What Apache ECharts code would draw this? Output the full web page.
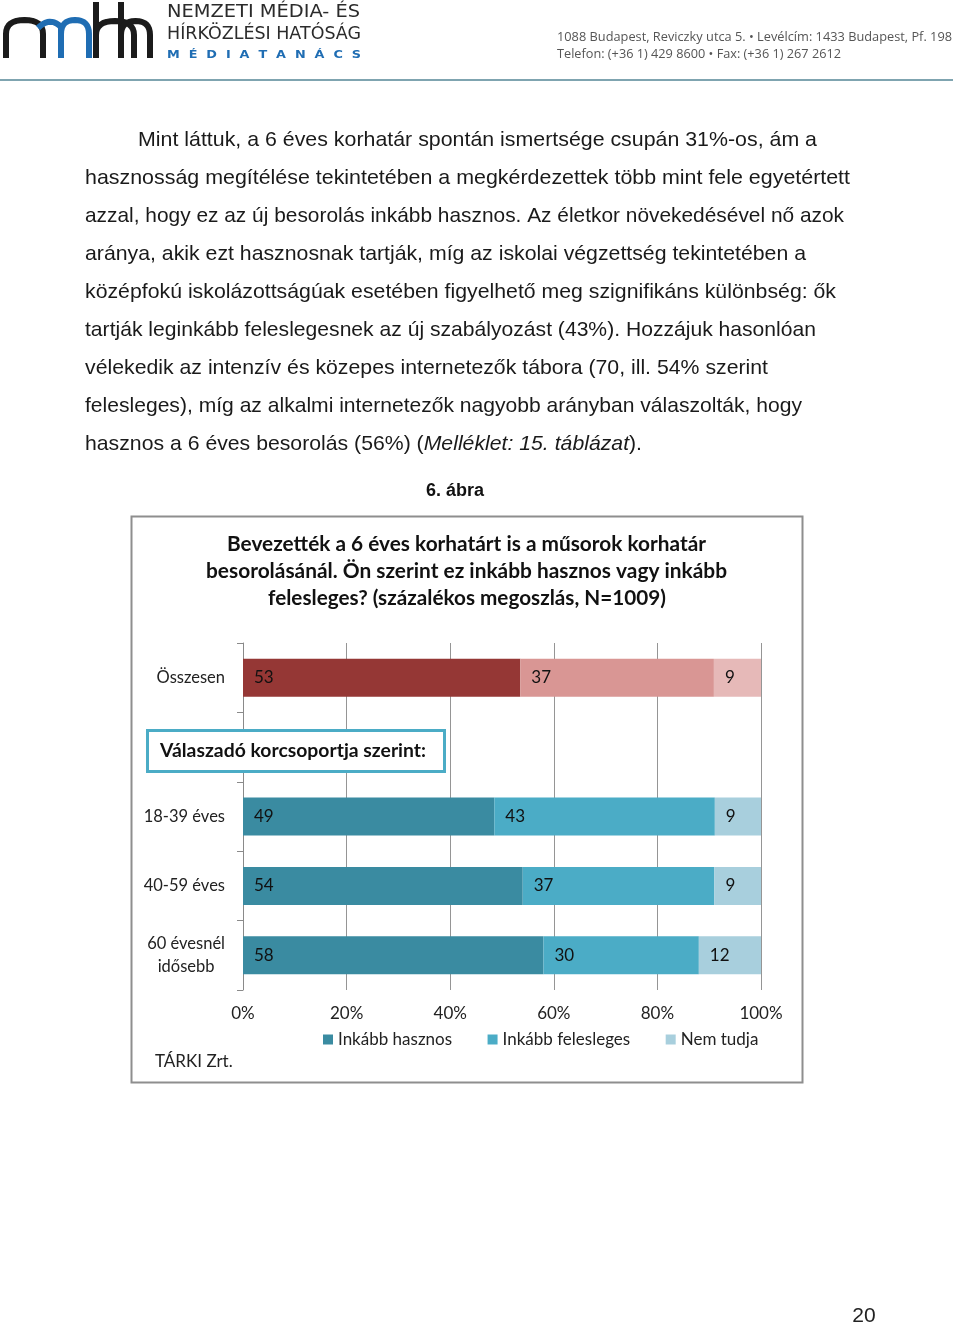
<!DOCTYPE html>
<html>
<head>
<meta charset="utf-8">
<script src="https://cdn.jsdelivr.net/npm/echarts@6/dist/echarts.min.js"></script>
<style>
html,body{margin:0;padding:0;background:#fff;}
#chart{width:960px;height:1328px;}
</style>
</head>
<body>
<div id="chart"></div>
<script>
// ---- data ----
const categories = ['Összesen', '', '18-39 éves', '40-59 éves', '60 évesnél\nidősebb'];
const seriesNames = ['Inkább hasznos', 'Inkább felesleges', 'Nem tudja'];
const inkabbHasznos = [53, null, 49, 54, 58];
const inkabbFelesleges = [37, null, 43, 37, 30];
const nemTudja = [9, null, 9, 9, 12];
const xTickLabels = ['0%', '20%', '40%', '60%', '80%', '100%'];

const tealColors = ['#3A8BA1', '#4BACC6', '#A8CFDD'];
const redColors = ['#953735', '#D99694', '#E6B9B8'];

const paragraph = [
  'Mint láttuk, a 6 éves korhatár spontán ismertsége csupán 31%-os, ám a',
  'hasznosság megítélése tekintetében a megkérdezettek több mint fele egyetértett',
  'azzal, hogy ez az új besorolás inkább hasznos. Az életkor növekedésével nő azok',
  'aránya, akik ezt hasznosnak tartják, míg az iskolai végzettség tekintetében a',
  'középfokú iskolázottságúak esetében figyelhető meg szignifikáns különbség: ők',
  'tartják leginkább feleslegesnek az új szabályozást (43%). Hozzájuk hasonlóan',
  'vélekedik az intenzív és közepes internetezők tábora (70, ill. 54% szerint',
  'felesleges), míg az alkalmi internetezők nagyobb arányban válaszolták, hogy',
  null
];
const paraStart = [138, 85, 85, 85, 85, 85, 85, 85, 85];
const paraEnd = [817, 850, 844, 806, 836, 816, 768, 802, 642];

const mctx = document.createElement('canvas').getContext('2d');
function measure(text, font) { mctx.font = font; return mctx.measureText(text).width; }

const PFONT = '21px "Liberation Sans Narrow", "Liberation Sans", sans-serif';
const PFONT_I = 'italic 21px "Liberation Sans Narrow", "Liberation Sans", sans-serif';

const graphics = [];
function fitText(text, font, x, y, target, fill, align, z) {
  const w = measure(text, font);
  graphics.push({
    type: 'text', x: x, y: y, scaleX: target / w, z: z || 100,
    style: { text: text, font: font, fill: fill || '#1a1a1a', textAlign: align || 'left', textVerticalAlign: 'middle' }
  });
}

// paragraph lines
for (let i = 0; i < 8; i++) {
  fitText(paragraph[i], PFONT, paraStart[i], 140 + i * 38, paraEnd[i] - paraStart[i]);
}
// last line with italic part
(function () {
  const parts = [['hasznos a 6 éves besorolás (56%) (', PFONT], ['Melléklet: 15. táblázat', PFONT_I], [').', PFONT]];
  let total = 0; parts.forEach(p => total += measure(p[0], p[1]));
  const s = (paraEnd[8] - paraStart[8]) / total;
  let x = paraStart[8];
  parts.forEach(p => {
    graphics.push({ type: 'text', x: x, y: 444, scaleX: s, z: 100,
      style: { text: p[0], font: p[1], fill: '#1a1a1a', textVerticalAlign: 'middle' } });
    x += measure(p[0], p[1]) * s;
  });
})();

// header logo (stroked polylines)
const logoBlack = '#1b1b1b', logoBlue = '#1f6db3';
const LW = 6;
function quadPts(p0, c, p1, n) {
  const pts = [];
  for (let k = 0; k <= n; k++) {
    const t = k / n, u = 1 - t;
    pts.push([u * u * p0[0] + 2 * u * t * c[0] + t * t * p1[0], u * u * p0[1] + 2 * u * t * c[1] + t * t * p1[1]]);
  }
  return pts;
}
function arch(xl, xr, top, bottom, color) {
  const xm = (xl + xr) / 2;
  const pts = [[xl, bottom], [xl, top + 14]]
    .concat(quadPts([xl, top + 14], [xl, top], [xm, top], 8).slice(1))
    .concat(quadPts([xm, top], [xr, top], [xr, top + 14], 8).slice(1))
    .concat([[xr, bottom]]);
  graphics.push({ type: 'polyline', z: 100, shape: { points: pts },
    style: { fill: null, stroke: color, lineWidth: LW, lineJoin: 'round' } });
}
function stem(x, y1, y2, color) {
  graphics.push({ type: 'line', z: 100, shape: { x1: x, y1: y1, x2: x, y2: y2 },
    style: { stroke: color, lineWidth: LW } });
}
arch(6, 43, 20, 58, logoBlack);
graphics.push({ type: 'polyline', z: 100, shape: { points: quadPts([38, 28], [50, 16], [61, 27], 10).concat([[61, 58]]) },
  style: { fill: null, stroke: logoBlue, lineWidth: LW, lineJoin: 'round' } });
arch(61, 89, 20, 58, logoBlue);
stem(96, 2, 58, logoBlack);
arch(96, 134, 21, 58, logoBlack);
stem(121, 2, 58, logoBlack);
arch(121, 150, 21, 58, logoBlack);

fitText('NEMZETI MÉDIA- ÉS', '17px "DejaVu Sans", sans-serif', 167, 13, 193, '#2b2b2b');
fitText('HÍRKÖZLÉSI HATÓSÁG', '17px "DejaVu Sans", sans-serif', 167, 35, 194, '#2b2b2b');
fitText('M  É  D  I  A  T  A  N  Á  C  S', 'bold 10px "DejaVu Sans", sans-serif', 167, 55, 194, logoBlue);
fitText('1088 Budapest, Reviczky utca 5. • Levélcím: 1433 Budapest, Pf. 198', '13.5px "Open Sans", sans-serif', 557, 37, 395, '#555');
fitText('Telefon: (+36 1) 429 8600 • Fax: (+36 1) 267 2612', '13.5px "Open Sans", sans-serif', 557, 54, 284, '#555');
graphics.push({ type: 'line', z: 100, shape: { x1: 0, y1: 80, x2: 953, y2: 80 }, style: { stroke: '#7fa4b0', lineWidth: 2 } });

// figure caption
graphics.push({ type: 'text', x: 455, y: 491, z: 100,
  style: { text: '6. ábra', font: 'bold 18px "Liberation Sans", sans-serif', fill: '#111', textAlign: 'center', textVerticalAlign: 'middle' } });

// chart frame
graphics.push({ type: 'rect', z: 0, shape: { x: 131.5, y: 516.5, width: 671, height: 566 },
  style: { fill: null, stroke: '#8e8e8e', lineWidth: 2 } });

// chart title
const TFONT = 'bold 20px Lato, sans-serif';
fitText('Bevezették a 6 éves korhatárt is a műsorok korhatár', TFONT, 466.5, 545, 479, '#111', 'center');
fitText('besorolásánál. Ön szerint ez inkább hasznos vagy inkább', TFONT, 466.5, 572, 521, '#111', 'center');
fitText('felesleges? (százalékos megoszlás, N=1009)', TFONT, 467, 599, 398, '#111', 'center');

// group label box
graphics.push({ type: 'rect', z: 100, shape: { x: 147.5, y: 730.5, width: 297, height: 41 },
  style: { fill: '#fff', stroke: '#4BACC6', lineWidth: 3 } });
fitText('Válaszadó korcsoportja szerint:', 'bold 19px Lato, sans-serif', 160, 751, 266, '#111', 'left', 101);

// source
graphics.push({ type: 'text', x: 155, y: 1062, z: 100,
  style: { text: 'TÁRKI Zrt.', font: '17px Lato, sans-serif', fill: '#222', textVerticalAlign: 'middle' } });

// page number
graphics.push({ type: 'text', x: 864, y: 1316, z: 100,
  style: { text: '20', font: '21px "Liberation Sans", sans-serif', fill: '#222', textAlign: 'center', textVerticalAlign: 'middle' } });

// ---- build series (100% stacked) ----
const raw = [inkabbHasznos, inkabbFelesleges, nemTudja];
const totals = categories.map((c, i) => raw.reduce((s, arr) => s + (arr[i] == null ? 0 : arr[i]), 0));
const series = raw.map((arr, si) => ({
  name: seriesNames[si],
  type: 'bar',
  stack: 'total',
  barWidth: 38,
  itemStyle: { color: tealColors[si] },
  label: {
    show: true, position: 'insideLeft', distance: 11,
    color: '#111', fontSize: 17, fontFamily: 'Lato, sans-serif',
    formatter: p => arr[p.dataIndex] == null ? '' : String(arr[p.dataIndex])
  },
  data: arr.map((v, i) => {
    if (v == null) return '-';
    const pct = v / totals[i] * 100;
    return i === 0 ? { value: pct, itemStyle: { color: redColors[si] } } : { value: pct };
  })
}));

const chart = echarts.init(document.getElementById('chart'), null, { renderer: 'canvas' });
chart.setOption({
  animation: false,
  backgroundColor: '#fff',
  grid: { left: 243, right: 199, top: 643, bottom: 338, containLabel: false },
  legend: {
    left: 323, top: 1031, padding: 0, itemGap: 35.5, itemWidth: 10, itemHeight: 10,
    icon: 'rect', textStyle: { fontSize: 17, fontFamily: 'Lato, sans-serif', color: '#222' },
    data: seriesNames
  },
  xAxis: {
    type: 'value', min: 0, max: 100, interval: 20,
    axisLine: { show: false }, axisTick: { show: false },
    splitLine: { show: true, lineStyle: { color: '#959595', width: 1 } },
    axisLabel: { margin: 15, fontSize: 17, fontFamily: 'Lato, sans-serif', color: '#222',
      formatter: v => xTickLabels[Math.round(v / 20)] }
  },
  yAxis: {
    type: 'category', inverse: true, data: categories,
    axisLine: { show: true, lineStyle: { color: '#8a8a8a', width: 1 } },
    axisTick: { show: true, length: 6, lineStyle: { color: '#8a8a8a' } },
    axisLabel: {
      margin: 18, fontSize: 16.5, fontFamily: 'Lato, sans-serif', color: '#222',
      formatter: v => v.indexOf('\n') >= 0 ? '{c|' + v + '}' : v,
      rich: { c: { align: 'center', fontSize: 16.5, fontFamily: 'Lato, sans-serif', color: '#222', lineHeight: 23 } }
    }
  },
  graphic: { elements: graphics },
  series: series
});
</script>
</body>
</html>
